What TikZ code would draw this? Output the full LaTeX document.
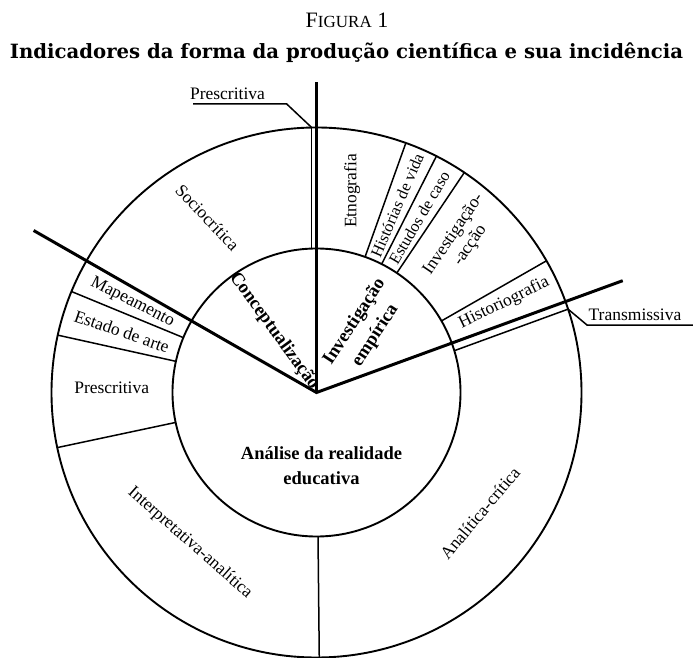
\documentclass[tikz,border=0pt]{standalone}
\usepackage{fontspec}
\setmainfont{Liberation Serif}
\newfontfamily\titlefont{DejaVu Serif}
\usetikzlibrary{calc}
\begin{document}
\begin{tikzpicture}[x=1pt,y=1pt,
  thickline/.style={line width=3pt},
  thinline/.style={line width=1.5pt},
  ring/.style={line width=1.9pt},
  lab/.style={font=\fontsize{17.5}{20}\selectfont, inner sep=0pt, align=center},
  slab/.style={font=\fontsize{16.3}{19}\selectfont, inner sep=0pt, align=center},
  blab/.style={font=\fontsize{18.5}{25}\selectfont\bfseries, inner sep=0pt, align=center},
  callout/.style={line width=1.5pt}
]
\useasboundingbox (0,0) rectangle (693,657);
\coordinate (C) at (316.5,264.5);
% rings
\draw[ring] (C) circle[radius=144];
\draw[ring] (C) circle[radius=265];
% thin radial dividers in the outer ring
\foreach \a in {70.3,63.1,56.1,29.8,157.6,167.5,192,270.6}
  \draw[thinline] ($(C)+(\a:144)$) -- ($(C)+(\a:265)$);
% thin parallel slivers
\coordinate (pin) at ($(C)+(90:143.92)+(180:4.8)$);
\coordinate (pout) at ($(C)+(90:264.96)+(180:4.8)$);
\coordinate (tin) at ($(C)+(20.06:143.78)+(-69.94:8)$);
\coordinate (tout) at ($(C)+(20.06:264.88)+(-69.94:8)$);
\draw[thinline] (pin) -- (pout);
\draw[thinline] (tin) -- (tout);
% thick sector lines
\coordinate (L1) at ($(C)+(90:310.5)$);
\coordinate (L2) at ($(C)+(150.2:326)$);
\coordinate (L3) at ($(C)+(20.06:326)$);
\draw[thickline, line join=miter] (L2) -- (C) -- (L3);
\draw[thickline] (C) -- (L1);
% title
\node[anchor=base, inner sep=0pt] (fig) at (347,629.5)
  {\fontsize{22}{22}\selectfont F{\fontsize{17}{17}\selectfont IGURA} 1};
\node[anchor=base, inner sep=0pt] (title) at (346.5,598)
  {\resizebox{673pt}{!}{\titlefont\bfseries\fontsize{20}{20}\selectfont Indicadores da forma da produção científica e sua incidência}};
% callouts
\node[lab, anchor=base] (ptop) at (227.5,557) {Prescritiva};
\coordinate (pu1) at (193,553);
\coordinate (pu2) at (286.7,553);
\draw[callout] (pu1) -- (pu2) -- (pout);
\node[lab, anchor=base] (trans) at (635,337) {Transmissiva};
\coordinate (tu1) at (587,332);
\coordinate (tu2) at (693,332);
\draw[callout] (tout) -- (tu1) -- (tu2);
% outer ring labels
\node[lab, rotate=90] (etno) at (352,466) {Etnografia};
\node[slab, rotate=66.5] (hist) at ($(C)+(66.7:204)$) {Histórias de vida};
\node[slab, rotate=59.6] (estu) at ($(C)+(59.6:203)$) {Estudos de caso};
\node[lab, rotate=56] (inva) at (462,417) {Investigação-\\-acção};
\node[lab, rotate=26] (histo) at (504,354) {Historiografia};
\node[lab, rotate=-46.5] (socio) at (207.5,439.5) {Sociocrítica};
\node[lab, rotate=-27] (mape) at ($(C)+(153.9:205)$) {Mapeamento};
\node[lab, rotate=-19] (esta) at ($(C)+(162.6:204)$) {Estado de arte};
\node[lab] (presl) at (111.7,269) {Prescritiva};
\node[lab, rotate=-41.4] (inter) at (190,114) {Interpretativa-analítica};
\node[lab, rotate=50] (anal) at (480,144) {Analítica-crítica};
% inner labels
\node[blab, rotate=-54] (conc) at (274,326) {Conceptualização};
\node[blab, rotate=57] (inve) at (365,328.3) {Investigação\\empírica};
\node[blab] (anali) at (321.5,191.5) {Análise da realidade\\educativa};
\end{tikzpicture}
\end{document}
